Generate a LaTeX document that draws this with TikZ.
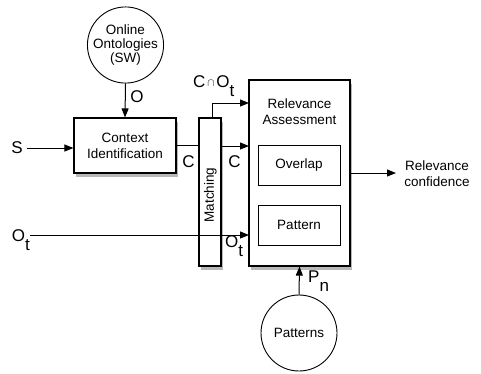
\documentclass[tikz,border=0pt]{standalone}
\usepackage{fontspec}
\setmainfont{Liberation Sans}
\usetikzlibrary{arrows.meta,shadows}
\begin{document}
\begin{tikzpicture}[x=1pt,y=-1pt,
  box/.style={draw,line width=1.1pt,fill=white,font=\fontsize{13.5}{15}\selectfont,align=center,inner sep=0pt,
    drop shadow={shadow xshift=2pt,shadow yshift=-4pt,opacity=0.35,fill=black!80}},
  inbox/.style={draw,line width=0.9pt,fill=white,font=\fontsize{13.5}{15}\selectfont,inner sep=0pt},
  circ/.style={draw,circle,line width=0.9pt,fill=white,font=\fontsize{13.5}{15}\selectfont,align=center,inner sep=0pt},
  lbl/.style={font=\fontsize{17}{18}\selectfont,inner sep=0pt},
  txt/.style={font=\fontsize{13.5}{15}\selectfont,align=center,inner sep=0pt},
  arr/.style={line width=1pt,-{Triangle[length=9pt,width=7pt]}},
  ln/.style={line width=1pt}]
\useasboundingbox (0,0) rectangle (481,373);
% nodes
\node[circ,minimum size=75pt] (onto) at (125.5,45) {Online\\[-1pt]Ontologies\\[-1pt](SW)};
\node[box,minimum width=102pt,minimum height=55pt] (ctx) at (125,145.5) {Context\\[1pt]Identification};
\node[box,minimum width=22pt,minimum height=148pt] (match) at (210,192) {};
\node[txt,rotate=90] (matchtxt) at (210.5,195) {Matching};
\node[box,minimum width=101pt,minimum height=186pt] (rel) at (299.5,173) {};
\node[txt] (reltxt) at (299.5,112) {Relevance\\[1pt]Assessment};
\node[inbox,minimum width=82pt,minimum height=40pt] (overlap) at (299,165) {Overlap};
\node[inbox,minimum width=82pt,minimum height=40pt] (pattern) at (299,225) {Pattern};
\node[txt] (conf) at (437,174) {Relevance\\[1pt]confidence};
\node[circ,minimum size=76pt] (patterns) at (299,333) {Patterns};
\node[lbl] (S) at (17,148) {S};
\node[lbl,anchor=east] (Otl) at (30,240) {O\raisebox{-0.5em}{t}};
% coordinates
\coordinate (sEnd) at (27,148);
\coordinate (cStart) at (176,145);
\coordinate (cEnd) at (199,145);
\coordinate (c2Start) at (221,146);
\coordinate (c2End) at (249,146);
\coordinate (coStart) at (212,118);
\coordinate (coEnd) at (249,103);
\coordinate (otStart) at (30,235);
\coordinate (otEnd) at (249,235);
\coordinate (confStart) at (350,173);
\coordinate (confEnd) at (396,173);
% connectors
\draw[arr] (onto.south) -- (ctx.north);
\draw[arr] (sEnd) -- (ctx.west |- sEnd);
\draw[ln] (cStart) -- (cEnd);
\draw[arr] (c2Start) -- (c2End);
\draw[arr] (coStart) |- (coEnd);
\draw[arr] (otStart) -- (otEnd);
\draw[arr] (confStart) -- (confEnd);
\draw[arr] (patterns.north) -- (rel.south);
% labels
\node[lbl] (lO) at (137,97) {O};
\node[lbl] (lC1) at (188.5,162) {C};
\node[lbl] (lC2) at (234.5,162) {C};
\node[lbl,anchor=west] (lOt) at (225,246) {O\raisebox{-0.5em}{t}};
\node[lbl,anchor=west] (lco) at (193,86) {C\kern2pt\raisebox{0.05em}{\fontsize{11}{11}\selectfont$\cap$}\kern1.5pt O\raisebox{-0.5em}{t}};
\node[lbl,anchor=west] (lPn) at (308,281) {P\raisebox{-0.5em}{n}};
\end{tikzpicture}
\end{document}
